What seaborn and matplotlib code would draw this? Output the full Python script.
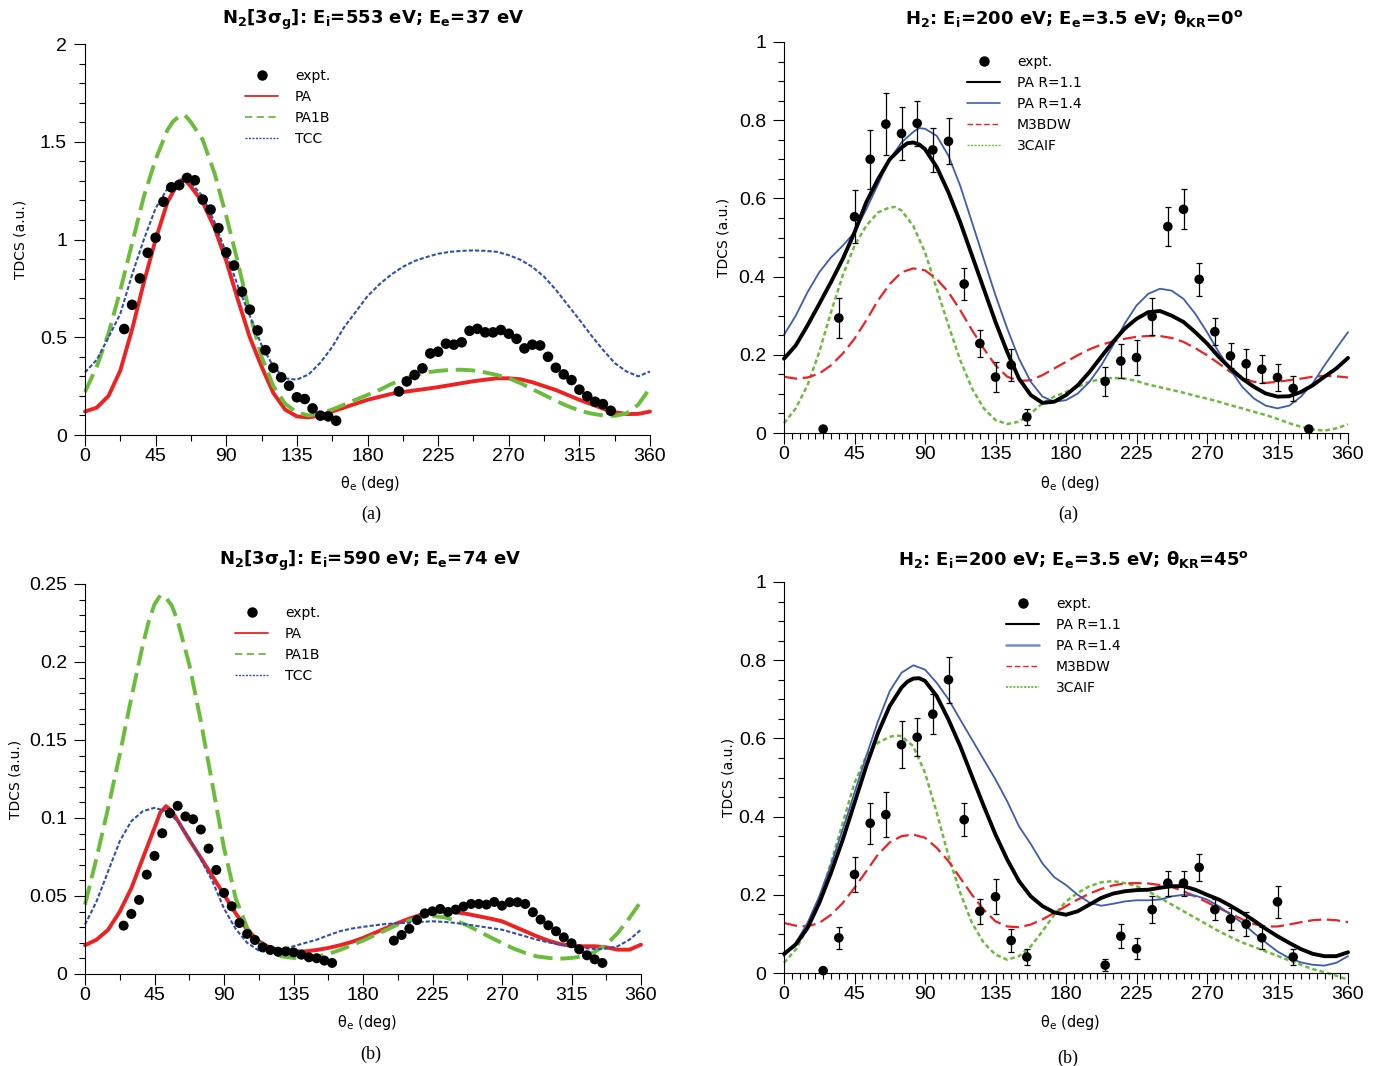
import matplotlib
matplotlib.use("Agg")
import numpy as np
import pandas as pd
import matplotlib.pyplot as plt
import seaborn as sns
from matplotlib.lines import Line2D
from matplotlib.ticker import MultipleLocator, FixedLocator, FixedFormatter

# ------------------------------------------------------------------
# Data
# ------------------------------------------------------------------
# angular grid of the theoretical curves (deg)
theta_grid = [0, 7.5, 15, 22.5, 30, 37.5, 45, 52.5, 60, 67.5, 75, 82.5, 90,
              97.5, 105, 112.5, 120, 127.5, 135, 142.5, 150, 157.5, 165,
              172.5, 180, 187.5, 195, 202.5, 210, 217.5, 225, 232.5, 240,
              247.5, 255, 262.5, 270, 277.5, 285, 292.5, 300, 307.5, 315,
              322.5, 330, 337.5, 345, 352.5, 360]

x_ticks = [0, 45, 90, 135, 180, 225, 270, 315, 360]
x_tick_labels = ['0', '45', '90', '135', '180', '225', '270', '315', '360']

# --- N2 [3 sigma_g], Ei = 553 eV, Ee = 37 eV -----------------------
n2a_pa = [0.12, 0.14, 0.20, 0.33, 0.54, 0.78, 1.00, 1.19, 1.30, 1.27, 1.19,
          1.06, 0.89, 0.69, 0.50, 0.35, 0.215, 0.13, 0.095, 0.09, 0.10, 0.12,
          0.14, 0.16, 0.18, 0.195, 0.21, 0.22, 0.228, 0.236, 0.245, 0.255,
          0.265, 0.275, 0.283, 0.29, 0.29, 0.285, 0.27, 0.25, 0.23, 0.205,
          0.18, 0.158, 0.135, 0.117, 0.107, 0.108, 0.12]
n2a_pa_peak = ([63.75], [1.305])
n2a_pa1b = [0.22, 0.35, 0.52, 0.74, 0.98, 1.22, 1.41, 1.56, 1.63, 1.60, 1.51,
            1.34, 1.12, 0.88, 0.62, 0.40, 0.25, 0.16, 0.115, 0.10, 0.11, 0.13,
            0.155, 0.18, 0.205, 0.23, 0.26, 0.285, 0.305, 0.32, 0.328, 0.333,
            0.334, 0.33, 0.32, 0.307, 0.29, 0.265, 0.235, 0.205, 0.175, 0.148,
            0.125, 0.11, 0.10, 0.098, 0.11, 0.155, 0.24]
n2a_pa1b_peak = ([56.25, 63.75], [1.605, 1.635])
n2a_tcc = [0.32, 0.385, 0.50, 0.62, 0.82, 1.00, 1.16, 1.26, 1.305, 1.29, 1.22,
           1.09, 0.93, 0.76, 0.61, 0.46, 0.35, 0.29, 0.283, 0.31, 0.37, 0.45,
           0.55, 0.63, 0.71, 0.77, 0.82, 0.86, 0.89, 0.91, 0.927, 0.937, 0.942,
           0.944, 0.942, 0.937, 0.92, 0.896, 0.86, 0.81, 0.743, 0.666, 0.59,
           0.51, 0.436, 0.368, 0.325, 0.30, 0.325]
n2a_tcc_peak = ([63.75], [1.31])
n2a_exp_theta = [25, 30, 35, 40, 45, 50, 55, 60, 65, 70, 75, 80, 85, 90, 95,
                 100, 105, 110, 115, 120, 125, 130, 135, 140, 145, 150, 155,
                 160, 200, 205, 210, 215, 220, 225, 230, 235, 240, 245, 250,
                 255, 260, 265, 270, 275, 280, 285, 290, 295, 300, 305, 310,
                 315, 320, 325, 330, 335]
n2a_exp = [0.542, 0.666, 0.801, 0.932, 1.009, 1.193, 1.267, 1.278, 1.315,
           1.303, 1.204, 1.153, 1.058, 0.934, 0.867, 0.733, 0.641, 0.535,
           0.434, 0.344, 0.295, 0.252, 0.193, 0.184, 0.136, 0.099, 0.095,
           0.073, 0.223, 0.274, 0.307, 0.341, 0.417, 0.426, 0.467, 0.462,
           0.474, 0.533, 0.543, 0.525, 0.525, 0.537, 0.518, 0.492, 0.443,
           0.462, 0.458, 0.400, 0.344, 0.310, 0.281, 0.232, 0.198, 0.170,
           0.158, 0.124]

# --- N2 [3 sigma_g], Ei = 590 eV, Ee = 74 eV -----------------------
n2b_pa = [0.0184, 0.022, 0.0284, 0.040, 0.055, 0.0744, 0.0937, 0.1076, 0.0984,
          0.086, 0.0745, 0.0627, 0.0509, 0.039, 0.0284, 0.021, 0.0167, 0.015,
          0.0145, 0.0145, 0.0154, 0.0167, 0.0184, 0.0205, 0.0231, 0.0263,
          0.0295, 0.0327, 0.0355, 0.038, 0.0398, 0.0402, 0.0396, 0.0385, 0.037,
          0.0355, 0.0338, 0.0306, 0.0274, 0.0242, 0.0214, 0.0192, 0.018,
          0.0178, 0.0178, 0.0171, 0.0156, 0.0156, 0.0188]
n2b_pa_peak = ([48.75, 56.25], [0.1035, 0.1045])
n2b_pa1b = [0.0445, 0.0744, 0.1065, 0.1407, 0.177, 0.2113, 0.237, 0.2412,
            0.2263, 0.1985, 0.162, 0.1215, 0.0808, 0.0488, 0.0295, 0.0199,
            0.0141, 0.0113, 0.0103, 0.0103, 0.0111, 0.0128, 0.0154, 0.0184,
            0.0214, 0.0248, 0.0282, 0.0317, 0.0342, 0.0364, 0.0372, 0.0364,
            0.0342, 0.0312, 0.0274, 0.0235, 0.0199, 0.0163, 0.0135, 0.0113,
            0.0103, 0.0098, 0.0103, 0.0113, 0.0141, 0.0188, 0.0263, 0.0359,
            0.0466]
n2b_pa1b_peak = ([41.25, 48.75, 56.25], [0.226, 0.2427, 0.236])
n2b_tcc = [0.0317, 0.0466, 0.0659, 0.0851, 0.098, 0.1044, 0.1065, 0.1044,
           0.098, 0.0873, 0.0734, 0.0595, 0.042, 0.029, 0.020, 0.015, 0.014,
           0.0156, 0.0178, 0.0199, 0.022, 0.0248, 0.0274, 0.0291, 0.0302,
           0.0312, 0.0321, 0.0325, 0.0329, 0.0334, 0.0338, 0.0334, 0.0327,
           0.0317, 0.0306, 0.0295, 0.0284, 0.0263, 0.0242, 0.022, 0.0203,
           0.0188, 0.0178, 0.0167, 0.016, 0.0163, 0.0178, 0.022, 0.0284]
n2b_exp_theta = n2a_exp_theta
n2b_exp = [0.031, 0.0385, 0.0475, 0.0637, 0.0757, 0.0902, 0.103, 0.1078,
           0.101, 0.0992, 0.0926, 0.0804, 0.0667, 0.052, 0.0434, 0.0327,
           0.0257, 0.0218, 0.0171, 0.0154, 0.0143, 0.0145, 0.0139, 0.0124,
           0.0107, 0.0101, 0.0086, 0.0071, 0.0214, 0.025, 0.029, 0.0346,
           0.0389, 0.0402, 0.0417, 0.0398, 0.0413, 0.0432, 0.0449, 0.0449,
           0.0445, 0.0462, 0.0438, 0.046, 0.046, 0.0449, 0.0396, 0.0349,
           0.0312, 0.0274, 0.0235, 0.0197, 0.0158, 0.012, 0.0094, 0.0071]

# --- H2, Ei = 200 eV, Ee = 3.5 eV, theta_KR = 0 deg ----------------
h2a_pa11 = [0.19, 0.224, 0.275, 0.33, 0.386, 0.445, 0.513, 0.59, 0.649, 0.70,
            0.73, 0.743, 0.726, 0.68, 0.615, 0.539, 0.454, 0.369, 0.284,
            0.207, 0.139, 0.097, 0.077, 0.08, 0.097, 0.122, 0.156, 0.195,
            0.233, 0.267, 0.292, 0.309, 0.312, 0.30, 0.284, 0.258, 0.229,
            0.195, 0.165, 0.139, 0.118, 0.101, 0.093, 0.094, 0.105, 0.122,
            0.144, 0.165, 0.192]
h2a_pa11_peak = ([78.75, 86.25], [0.741, 0.738])
h2a_pa14 = [0.251, 0.30, 0.36, 0.411, 0.449, 0.479, 0.513, 0.572, 0.636, 0.70,
            0.743, 0.77, 0.778, 0.76, 0.709, 0.632, 0.539, 0.445, 0.352, 0.267,
            0.19, 0.131, 0.093, 0.08, 0.084, 0.101, 0.131, 0.173, 0.224, 0.28,
            0.326, 0.356, 0.369, 0.364, 0.343, 0.305, 0.258, 0.207, 0.161,
            0.118, 0.088, 0.07, 0.063, 0.07, 0.093, 0.127, 0.173, 0.216, 0.258]
h2a_pa14_peak = ([86.25], [0.78])
h2a_m3bdw = [0.144, 0.139, 0.142, 0.152, 0.173, 0.203, 0.241, 0.288, 0.339,
             0.381, 0.411, 0.421, 0.416, 0.394, 0.36, 0.314, 0.263, 0.216,
             0.173, 0.144, 0.133, 0.135, 0.148, 0.165, 0.182, 0.199, 0.214,
             0.226, 0.234, 0.241, 0.246, 0.248, 0.248, 0.243, 0.233, 0.217,
             0.199, 0.178, 0.156, 0.139, 0.131, 0.128, 0.131, 0.135, 0.139,
             0.144, 0.146, 0.145, 0.142]
h2a_3caif = [0.025, 0.063, 0.122, 0.207, 0.309, 0.403, 0.479, 0.53, 0.564,
             0.577, 0.569, 0.53, 0.462, 0.369, 0.275, 0.186, 0.114, 0.063,
             0.033, 0.023, 0.029, 0.05, 0.076, 0.093, 0.105, 0.118, 0.131,
             0.138, 0.141, 0.139, 0.133, 0.124, 0.117, 0.11, 0.103, 0.095,
             0.088, 0.08, 0.071, 0.063, 0.054, 0.046, 0.036, 0.025, 0.016,
             0.009, 0.006, 0.012, 0.022]
h2a_3caif_peak = ([71.25], [0.578])
h2a_exp_theta = [25, 35, 45, 55, 65, 75, 85, 95, 105, 115, 125, 135, 145, 155,
                 205, 215, 225, 235, 245, 255, 265, 275, 285, 295, 305, 315,
                 325, 335]
h2a_exp = [0.010, 0.294, 0.553, 0.700, 0.790, 0.766, 0.792, 0.724, 0.746,
           0.381, 0.229, 0.143, 0.174, 0.041, 0.132, 0.184, 0.193, 0.298,
           0.528, 0.572, 0.393, 0.259, 0.197, 0.177, 0.163, 0.142, 0.114,
           0.010]
h2a_err = [0.0, 0.051, 0.068, 0.076, 0.079, 0.068, 0.058, 0.057, 0.059, 0.042,
           0.035, 0.039, 0.042, 0.021, 0.037, 0.044, 0.045, 0.048, 0.050,
           0.051, 0.043, 0.035, 0.032, 0.039, 0.036, 0.034, 0.032, 0.0]

# --- H2, Ei = 200 eV, Ee = 3.5 eV, theta_KR = 45 deg ---------------
h2b_pa11 = [0.049, 0.073, 0.115, 0.179, 0.256, 0.341, 0.435, 0.529, 0.614,
            0.683, 0.73, 0.753, 0.747, 0.708, 0.648, 0.58, 0.503, 0.427,
            0.354, 0.29, 0.235, 0.196, 0.171, 0.155, 0.149, 0.158, 0.175,
            0.192, 0.203, 0.209, 0.212, 0.213, 0.218, 0.222, 0.222, 0.213,
            0.2, 0.188, 0.172, 0.154, 0.134, 0.113, 0.094, 0.077, 0.061,
            0.049, 0.043, 0.043, 0.053]
h2b_pa11_peak = ([78.75, 86.25], [0.745, 0.754])
h2b_pa14 = [0.043, 0.077, 0.128, 0.196, 0.277, 0.367, 0.461, 0.555, 0.644,
            0.721, 0.768, 0.787, 0.776, 0.742, 0.70, 0.648, 0.597, 0.546,
            0.495, 0.439, 0.375, 0.33, 0.28, 0.245, 0.225, 0.2, 0.18, 0.172,
            0.177, 0.183, 0.186, 0.186, 0.188, 0.196, 0.2, 0.198, 0.188,
            0.171, 0.149, 0.128, 0.102, 0.078, 0.055, 0.038, 0.027, 0.021,
            0.019, 0.026, 0.043]
h2b_m3bdw = [0.128, 0.121, 0.119, 0.128, 0.149, 0.179, 0.218, 0.26, 0.303,
             0.334, 0.35, 0.354, 0.346, 0.32, 0.286, 0.243, 0.2, 0.162, 0.132,
             0.119, 0.117, 0.124, 0.137, 0.154, 0.171, 0.188, 0.203, 0.215,
             0.224, 0.229, 0.23, 0.229, 0.225, 0.22, 0.209, 0.196, 0.181,
             0.166, 0.152, 0.137, 0.125, 0.119, 0.119, 0.124, 0.13, 0.135,
             0.137, 0.135, 0.13]
h2b_3caif = [0.026, 0.06, 0.115, 0.188, 0.282, 0.384, 0.486, 0.555, 0.589,
             0.604, 0.606, 0.58, 0.512, 0.41, 0.299, 0.205, 0.128, 0.077,
             0.047, 0.034, 0.043, 0.068, 0.107, 0.149, 0.183, 0.205, 0.222,
             0.232, 0.235, 0.23, 0.222, 0.209, 0.192, 0.175, 0.158, 0.141,
             0.124, 0.107, 0.092, 0.078, 0.067, 0.055, 0.044, 0.032, 0.021,
             0.01, 0.002, -0.007, -0.017]
h2b_3caif_peak = ([71.25], [0.607])
h2b_exp_theta = [25, 35, 45, 55, 65, 75, 85, 95, 105, 115, 125, 135, 145, 155,
                 205, 215, 225, 235, 245, 255, 265, 275, 285, 295, 305, 315,
                 325]
h2b_exp = [0.006, 0.090, 0.252, 0.383, 0.405, 0.584, 0.603, 0.662, 0.750,
           0.392, 0.158, 0.195, 0.083, 0.041, 0.020, 0.094, 0.062, 0.162,
           0.230, 0.230, 0.270, 0.162, 0.138, 0.125, 0.090, 0.182, 0.041]
h2b_err = [0.0, 0.028, 0.045, 0.053, 0.058, 0.060, 0.049, 0.052, 0.059, 0.042,
           0.032, 0.045, 0.029, 0.020, 0.015, 0.031, 0.027, 0.035, 0.032,
           0.032, 0.035, 0.027, 0.028, 0.031, 0.028, 0.041, 0.020]

# y axes
n2a_yticks = [0, 0.5, 1, 1.5, 2]
n2a_ylabels = ['0', '0.5', '1', '1.5', '2']
n2b_yticks = [0, 0.05, 0.1, 0.15, 0.2, 0.25]
n2b_ylabels = ['0', '0.05', '0.1', '0.15', '0.2', '0.25']
h2_yticks = [0, 0.2, 0.4, 0.6, 0.8, 1]
h2_ylabels = ['0', '0.2', '0.4', '0.6', '0.8', '1']

# ------------------------------------------------------------------
# Style
# ------------------------------------------------------------------
sns.set_theme(style="ticks")
plt.rcParams['font.family'] = ['DejaVu Sans']
plt.rcParams['text.color'] = 'black'
plt.rcParams['axes.labelcolor'] = 'black'
plt.rcParams['axes.edgecolor'] = 'black'
plt.rcParams['axes.linewidth'] = 0.8
plt.rcParams['xtick.color'] = 'black'
plt.rcParams['ytick.color'] = 'black'
plt.rcParams['xtick.labelcolor'] = 'black'
plt.rcParams['ytick.labelcolor'] = 'black'
NARROW = ['Liberation Sans Narrow', 'Liberation Sans', 'DejaVu Sans']

RED = '#ee2222'
GREEN = '#6abd3a'
BLUE = '#2f4fb5'
BLUE2 = '#3d5cb3'

W, H = 1376, 1066
fig = plt.figure(figsize=(W / 100, H / 100), dpi=100)


def add_axes_px(left, top, right, bottom):
    return fig.add_axes([left / W, 1 - bottom / H, (right - left) / W,
                         (bottom - top) / H])


def curve(ax, values, color, lw, ls, extra=None, z=2):
    theta = list(theta_grid)
    tdcs = list(values)
    if extra is not None:
        theta += list(extra[0])
        tdcs += list(extra[1])
    df = pd.DataFrame({'theta': theta, 'tdcs': tdcs}).sort_values('theta')
    sns.lineplot(data=df, x='theta', y='tdcs', ax=ax, color=color,
                 linewidth=lw, linestyle=ls, errorbar=None, clip_on=False,
                 zorder=z, solid_joinstyle='round', dash_joinstyle='round')


def points(ax, ang, val, size, err=None):
    if err is not None:
        ax.errorbar(ang, val, yerr=err, fmt='none', ecolor='black',
                    elinewidth=0.9, capsize=2.4, capthick=0.9, zorder=4,
                    clip_on=False)
    sns.scatterplot(x=ang, y=val, ax=ax, color='black', s=size,
                    edgecolor='none', linewidth=0, zorder=5, clip_on=False,
                    legend=False)


def style(ax, ymax, yticks, ylabels, xminor, yminor):
    ax.set_xlim(0, 360)
    ax.set_ylim(0, ymax)
    ax.xaxis.set_major_locator(FixedLocator(x_ticks))
    ax.xaxis.set_major_formatter(FixedFormatter(x_tick_labels))
    ax.xaxis.set_minor_locator(MultipleLocator(xminor))
    ax.yaxis.set_major_locator(FixedLocator(yticks))
    ax.yaxis.set_major_formatter(FixedFormatter(ylabels))
    ax.yaxis.set_minor_locator(MultipleLocator(yminor))
    sns.despine(ax=ax)
    ax.tick_params(which='both', direction='out', width=0.8, color='black')
    ax.tick_params(which='major', length=8)
    ax.tick_params(which='minor', length=4.5)
    ax.tick_params(axis='x', which='major', pad=1.5, labelsize=14,
                   labelfontfamily=NARROW)
    ax.tick_params(axis='y', which='major', pad=5, labelsize=14,
                   labelfontfamily=NARROW)
    ax.set_xlabel(r'θ$_\mathrm{e}$ (deg)', fontsize=10.5)
    ax.set_ylabel('TDCS (a.u.)', fontsize=10)


def labels_at(ax, xlab_px, ylab_px):
    ax.xaxis.set_label_coords(xlab_px[0] / W, 1 - xlab_px[1] / H,
                              transform=fig.transFigure)
    ax.yaxis.set_label_coords(ylab_px[0] / W, 1 - ylab_px[1] / H,
                              transform=fig.transFigure)


def legend(ax, handles, labels, px):
    ax.legend(handles, labels, loc='upper left',
              bbox_to_anchor=(px[0] / W, 1 - px[1] / H),
              bbox_transform=fig.transFigure, frameon=False, fontsize=10,
              handlelength=2.4, handletextpad=1.2, labelspacing=0.5,
              borderpad=0, borderaxespad=0, numpoints=1)


dot = Line2D([], [], marker='o', ls='none', color='black', markersize=6.5)

# ------------------------------------------------------------------
# N2, 553 eV
# ------------------------------------------------------------------
ax1 = add_axes_px(85, 44, 650, 435)
curve(ax1, n2a_pa, RED, 2.8, '-', n2a_pa_peak)
curve(ax1, n2a_pa1b, GREEN, 2.8, (0, (5, 2)), n2a_pa1b_peak)
curve(ax1, n2a_tcc, BLUE, 1.5, (0, (2, 1)), n2a_tcc_peak)
points(ax1, n2a_exp_theta, n2a_exp, 58)
style(ax1, 2, n2a_yticks, n2a_ylabels, 22.5, 0.1)
labels_at(ax1, (370, 474), (28, 239.5))
legend(ax1, [dot,
             Line2D([], [], color=RED, lw=1.3),
             Line2D([], [], color=GREEN, lw=1.3, ls=(0, (4, 2.5))),
             Line2D([], [], color=BLUE, lw=1.0, ls=(0, (1.5, 1)))],
       ['expt.', 'PA', 'PA1B', 'TCC'], (245, 69))

# ------------------------------------------------------------------
# H2, theta_KR = 0
# ------------------------------------------------------------------
ax2 = add_axes_px(784, 42, 1348, 433)
curve(ax2, h2a_3caif, GREEN, 1.8, (0, (1.8, 1.2)), h2a_3caif_peak)
curve(ax2, h2a_m3bdw, RED, 1.6, (0, (6, 2.5)))
curve(ax2, h2a_pa14, BLUE2, 1.3, '-', h2a_pa14_peak)
curve(ax2, h2a_pa11, 'black', 2.8, '-', h2a_pa11_peak)
points(ax2, h2a_exp_theta, h2a_exp, 48, h2a_err)
style(ax2, 1, h2_yticks, h2_ylabels, 5, 0.05)
labels_at(ax2, (1070, 474), (730, 237.5))
legend(ax2, [dot,
             Line2D([], [], color='black', lw=1.5),
             Line2D([], [], color=BLUE2, lw=1.2),
             Line2D([], [], color=RED, lw=1.0, ls=(0, (4, 2))),
             Line2D([], [], color=GREEN, lw=1.0, ls=(0, (1.5, 1)))],
       ['expt.', 'PA R=1.1', 'PA R=1.4', 'M3BDW', '3CAIF'], (967, 55))

# ------------------------------------------------------------------
# N2, 590 eV
# ------------------------------------------------------------------
ax3 = add_axes_px(85, 584, 641, 974)
curve(ax3, n2b_pa, RED, 2.8, '-', n2b_pa_peak)
curve(ax3, n2b_pa1b, GREEN, 2.8, (0, (5, 2)), n2b_pa1b_peak)
curve(ax3, n2b_tcc, BLUE, 1.5, (0, (2, 1)))
points(ax3, n2b_exp_theta, n2b_exp, 52)
style(ax3, 0.25, n2b_yticks, n2b_ylabels, 22.5, 0.01)
labels_at(ax3, (367, 1013), (23, 779))
legend(ax3, [dot,
             Line2D([], [], color=RED, lw=1.3),
             Line2D([], [], color=GREEN, lw=1.3, ls=(0, (4, 2.5))),
             Line2D([], [], color=BLUE, lw=1.0, ls=(0, (1.5, 1)))],
       ['expt.', 'PA', 'PA1B', 'TCC'], (235, 606))

# ------------------------------------------------------------------
# H2, theta_KR = 45
# ------------------------------------------------------------------
ax4 = add_axes_px(784, 582, 1348, 973)
curve(ax4, h2b_3caif, GREEN, 1.8, (0, (1.8, 1.2)), h2b_3caif_peak)
curve(ax4, h2b_m3bdw, RED, 1.6, (0, (6, 2.5)))
curve(ax4, h2b_pa14, BLUE2, 1.3, '-')
curve(ax4, h2b_pa11, 'black', 2.8, '-', h2b_pa11_peak)
points(ax4, h2b_exp_theta, h2b_exp, 48, h2b_err)
style(ax4, 1, h2_yticks, h2_ylabels, 5, 0.05)
labels_at(ax4, (1070, 1013), (735, 777.5))
legend(ax4, [dot,
             Line2D([], [], color='black', lw=1.5),
             Line2D([], [], color=BLUE2, lw=1.8, alpha=0.7),
             Line2D([], [], color=RED, lw=1.0, ls=(0, (4, 2))),
             Line2D([], [], color=GREEN, lw=1.3, ls=(0, (1.2, 0.8)))],
       ['expt.', 'PA R=1.1', 'PA R=1.4', 'M3BDW', '3CAIF'], (1006, 597))

# ------------------------------------------------------------------
# Panel titles and captions
# ------------------------------------------------------------------
titles = [
    (373, 24, r'N$_\mathbf{2}$[3σ$_\mathbf{g}$]: E$_\mathbf{i}$=553 eV; '
              r'E$_\mathbf{e}$=37 eV'),
    (1074, 24, r'H$_\mathbf{2}$: E$_\mathbf{i}$=200 eV; E$_\mathbf{e}$=3.5 eV; '
               r'θ$_\mathbf{KR}$=0$^\mathbf{o}$'),
    (370, 565, r'N$_\mathbf{2}$[3σ$_\mathbf{g}$]: E$_\mathbf{i}$=590 eV; '
               r'E$_\mathbf{e}$=74 eV'),
    (1074, 565, r'H$_\mathbf{2}$: E$_\mathbf{i}$=200 eV; E$_\mathbf{e}$=3.5 eV; '
                r'θ$_\mathbf{KR}$=45$^\mathbf{o}$'),
]
for x, y, t in titles:
    fig.text(x / W, 1 - y / H, t, ha='center', va='baseline', fontsize=13,
             fontweight='bold', color='black')

captions = [(371, 519, '(a)'), (1068, 519, '(a)'),
            (371, 1059, '(b)'), (1068, 1063, '(b)')]
for x, y, t in captions:
    fig.text(x / W, 1 - y / H, t, ha='center', va='baseline', fontsize=13,
             family=['Liberation Serif', 'DejaVu Serif'], color='black')

fig.savefig('out.png', dpi=100)
